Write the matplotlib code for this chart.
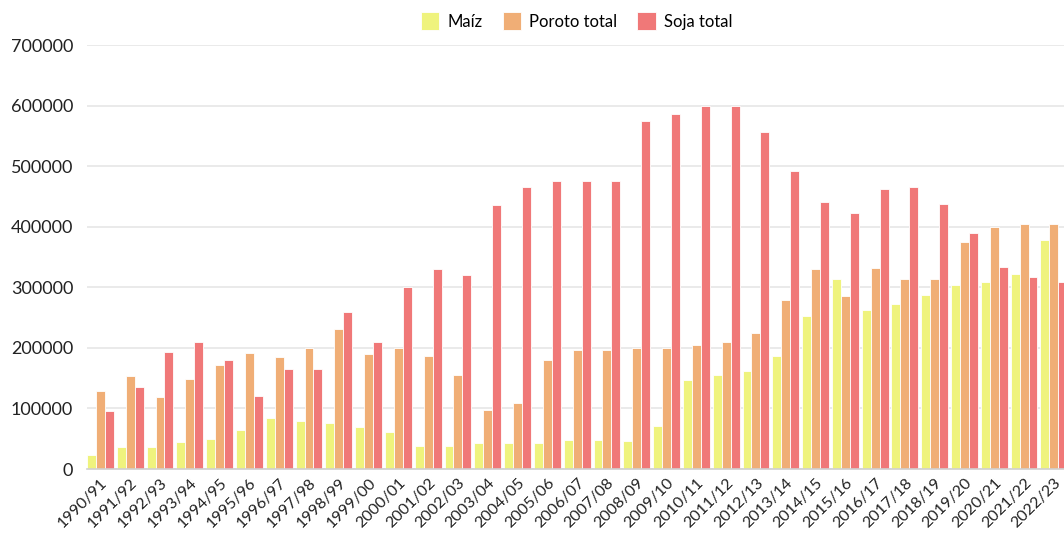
import numpy as np
import matplotlib.pyplot as plt

campaigns = ["1990/91", "1991/92", "1992/93", "1993/94", "1994/95", "1995/96",
             "1996/97", "1997/98", "1998/99", "1999/00", "2000/01", "2001/02",
             "2002/03", "2003/04", "2004/05", "2005/06", "2006/07", "2007/08",
             "2008/09", "2009/10", "2010/11", "2011/12", "2012/13", "2013/14",
             "2014/15", "2015/16", "2016/17", "2017/18", "2018/19", "2019/20",
             "2020/21", "2021/22", "2022/23"]

maiz = [23000, 37000, 37000, 45000, 50000, 65000, 85000, 80000, 76000, 70000,
        61000, 38000, 38000, 43000, 43000, 43000, 48000, 48000, 47000, 71000,
        147000, 156000, 162000, 187000, 253000, 313000, 262000, 273000, 287000,
        303000, 309000, 322000, 378000]

poroto = [128000, 153000, 119000, 148000, 172000, 191000, 185000, 200000, 231000,
          190000, 200000, 186000, 156000, 97000, 109000, 180000, 197000, 197000,
          200000, 200000, 204000, 210000, 225000, 279000, 331000, 285000, 332000,
          314000, 313000, 374000, 399000, 405000, 404000]

soja = [95000, 135000, 193000, 210000, 180000, 120000, 165000, 165000, 260000,
        210000, 300000, 330000, 320000, 436000, 466000, 476000, 476000, 476000,
        574000, 586000, 599000, 600000, 557000, 492000, 440000, 423000, 463000,
        465000, 438000, 390000, 334000, 317000, 309000]

series = [("Maíz", maiz, "#eff37d"),
          ("Poroto total", poroto, "#f0ae76"),
          ("Soja total", soja, "#f07878")]

plt.rcParams["font.family"] = ["Lato", "DejaVu Sans"]

fig = plt.figure(figsize=(10.64, 5.34), dpi=100)
ax = fig.add_axes([87 / 1064, 1 - 469 / 534, 977 / 1064, 424 / 534])

x = np.arange(len(campaigns))
w = 0.3
for i, (name, vals, color) in enumerate(series):
    ax.bar(x + (i - 1) * w, vals, width=w, color=color, edgecolor="white",
           linewidth=0.6, label=name, zorder=2)

ax.set_xlim(-0.45, 32.34)
ax.set_ylim(0, 700000)
ax.set_yticks(np.arange(0, 700001, 100000))
ax.set_yticklabels([str(v) for v in range(0, 700001, 100000)])
ax.grid(axis="y", color="#e6e6e6", linewidth=1.2, zorder=0)
ax.set_axisbelow(True)

ax.set_xticks(x)
ax.set_xticklabels(campaigns, rotation=45, ha="right", rotation_mode="anchor")
ax.tick_params(axis="x", length=0, pad=5, labelsize=11.5, colors="#222222")
ax.tick_params(axis="y", length=0, pad=10, labelsize=13, colors="#222222")

for s in ["top", "right", "left"]:
    ax.spines[s].set_visible(False)
ax.spines["bottom"].set_color("#d0d0d0")
ax.spines["bottom"].set_linewidth(1.2)

fig.legend(loc="upper center", bbox_to_anchor=(0.542, 1.005), ncol=3, frameon=False,
           fontsize=12, handlelength=1.1, handleheight=1.3, columnspacing=1.2,
           handletextpad=0.5)

fig.savefig("out.png", dpi=100)
